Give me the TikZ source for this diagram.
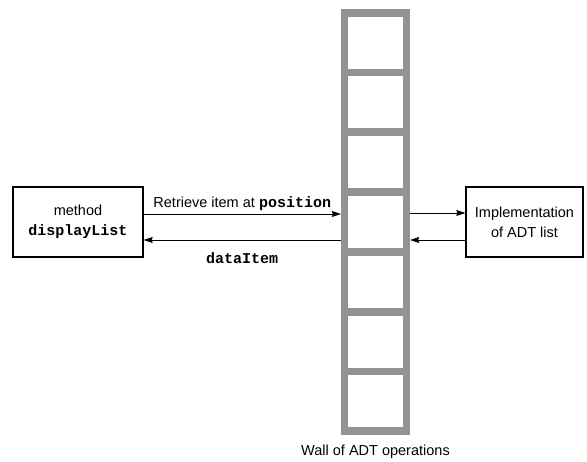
\documentclass[tikz,border=0pt]{standalone}
\usepackage{fontspec}
\setmainfont{Liberation Sans}
\setmonofont{Liberation Mono}
\usetikzlibrary{arrows.meta, positioning, calc}
\definecolor{wallgray}{HTML}{939393}

\begin{document}
\begin{tikzpicture}[
  x=1pt, y=-1pt,
  sidebox/.style={rectangle, draw=black, line width=1.3pt, fill=white, minimum width=#1, minimum height=70pt, align=center, inner sep=0pt, font=\fontsize{14.5}{20}\selectfont},
  wallcell/.style={rectangle, fill=white, minimum width=55pt, minimum height=52pt, inner sep=0pt},
  arrow/.style={-{Stealth[length=9pt, width=6pt, inset=1pt]}, line width=0.8pt},
  tag/.style={font=\fontsize{14.5}{15}\selectfont, inner sep=2pt},
  code/.style={font=\fontsize{15}{15}\selectfont\ttfamily\bfseries}
]
  \useasboundingbox (0,0) rectangle (587,462);

  % Wall of operations
  \node[rectangle, fill=wallgray, minimum width=69pt, minimum height=426pt, inner sep=0pt] (wall) at (375.5,222) {};
  \foreach \k in {1,...,7}
    \node[wallcell] (cell\k) at (375.5,{222+(\k-4)*59.8}) {};

  % Caller and implementation
  \node[sidebox=130pt] (method) at (78,222) {method\\{\fontsize{15}{20}\selectfont\ttfamily\bfseries displayList}};
  \node[sidebox=117pt] (impl) at (524.5,222) {Implementation\\of ADT list};

  % Arrows
  \draw[arrow] ([yshift=8pt]method.east) -- node[tag, above=1pt] {Retrieve item at {\fontsize{15}{15}\selectfont\ttfamily\bfseries position}} ([yshift=8pt]method.east -| wall.west);
  \draw[arrow] ([yshift=-18pt]method.east -| wall.west) -- node[tag, below=10pt, code] {dataItem} ([yshift=-18pt]method.east);
  \draw[arrow] ([yshift=9pt]impl.west -| wall.east) -- ([yshift=9pt]impl.west);
  \draw[arrow] ([yshift=-18pt]impl.west) -- ([yshift=-18pt]impl.west -| wall.east);

  % Label
  \node[tag, below=8pt of wall] (walllabel) {Wall of ADT operations};
\end{tikzpicture}
\end{document}
